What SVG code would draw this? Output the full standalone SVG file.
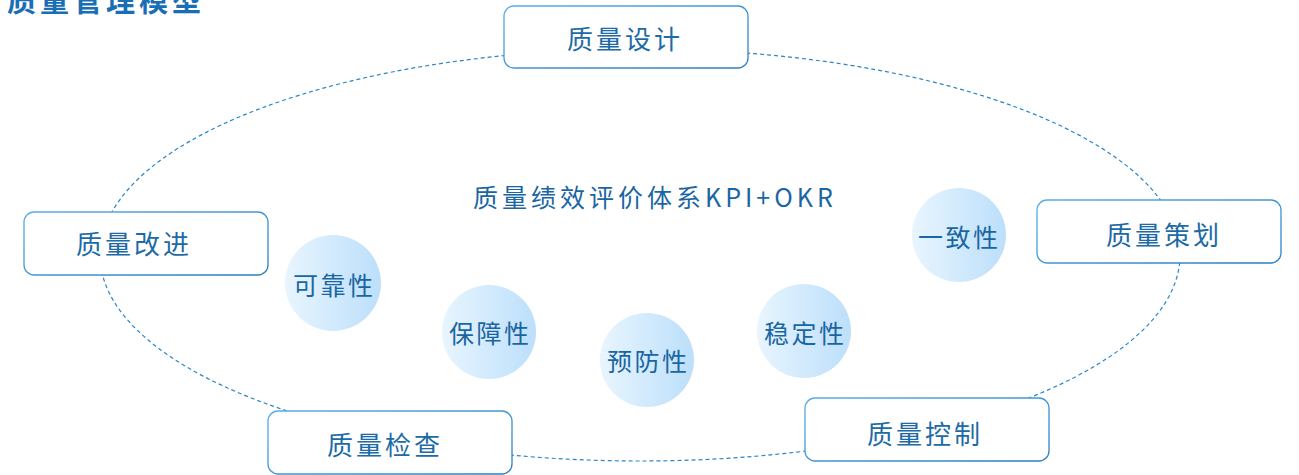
<svg xmlns="http://www.w3.org/2000/svg" width="1299" height="475" viewBox="0 0 1299 475">
<defs>
<linearGradient id="circ" x1="0" y1="0" x2="1" y2="0">
<stop offset="0" stop-color="#e8f5fe"/>
<stop offset="1" stop-color="#bcdffb"/>
</linearGradient>
<linearGradient id="bord" x1="0" y1="0" x2="1" y2="1">
<stop offset="0" stop-color="#5aaee6"/>
<stop offset="1" stop-color="#2a7fc0"/>
</linearGradient>
</defs>
<style>
.box{fill:#fff;stroke:url(#bord);stroke-width:1.3}
.bt{font-family:"Noto Sans CJK SC","Noto Sans",sans-serif;font-size:26px;fill:#1c6aa6;letter-spacing:3px}
.ct{font-family:"Noto Sans CJK SC","Noto Sans",sans-serif;font-size:25px;fill:#1a66a3;letter-spacing:2.5px}
.circ{fill:url(#circ)}
</style>
<rect width="1299" height="475" fill="#fff"/>
<text x="7" y="12" font-family="'Noto Sans CJK SC',sans-serif" font-size="29" font-weight="bold" fill="#1a6eb4" letter-spacing="4">质量管理模型</text>
<g id="connectors">
<ellipse cx="640" cy="255" rx="540" ry="206" fill="none" stroke="#2a86c8" stroke-width="1.2" stroke-dasharray="4,3"/>
</g>
<text x="473" y="207" font-family="'Noto Sans CJK SC',sans-serif" font-size="25" fill="#1a66a3" letter-spacing="4">质量绩效评价体系KPI+OKR</text>
<g id="n-design"><rect class="box" x="504" y="6" width="244" height="62" rx="10"/><text class="bt" x="567" y="49">质量设计</text></g>
<g id="n-improve"><rect class="box" x="24" y="212" width="244" height="63" rx="10"/><text class="bt" x="76" y="254">质量改进</text></g>
<g id="n-plan"><rect class="box" x="1037" y="200" width="244" height="63" rx="10"/><text class="bt" x="1106" y="245">质量策划</text></g>
<g id="n-check"><rect class="box" x="268" y="411" width="244" height="63" rx="10"/><text class="bt" x="327" y="455">质量检查</text></g>
<g id="n-control"><rect class="box" x="805" y="398" width="244" height="63" rx="10"/><text class="bt" x="867" y="444">质量控制</text></g>
<g id="c-reliability"><circle class="circ" cx="333" cy="283" r="48"/><text class="ct" x="293" y="295">可靠性</text></g>
<g id="c-support"><circle class="circ" cx="489" cy="332" r="47"/><text class="ct" x="449" y="343">保障性</text></g>
<g id="c-prevent"><circle class="circ" cx="647" cy="360" r="47"/><text class="ct" x="607" y="371">预防性</text></g>
<g id="c-stable"><circle class="circ" cx="804" cy="331" r="47"/><text class="ct" x="764" y="343">稳定性</text></g>
<g id="c-consistent"><circle class="circ" cx="959" cy="235" r="47"/><text class="ct" x="918" y="247">一致性</text></g>
</svg>
